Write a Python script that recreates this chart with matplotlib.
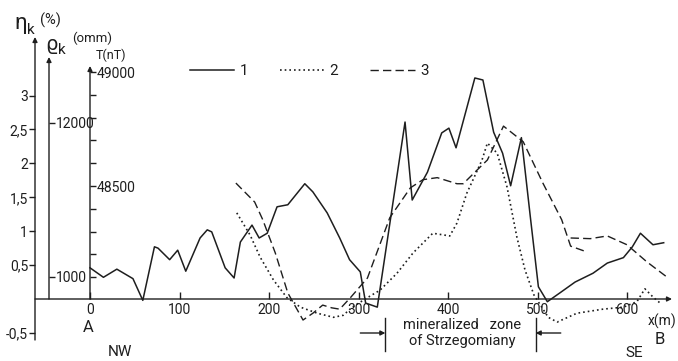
import numpy as np
import matplotlib
matplotlib.use("Agg")
from matplotlib import pyplot as plt

plt.rcParams['font.family'] = ['Roboto', 'DejaVu Sans']

W, H = 678, 361
INK = "#1e1e1e"

# curve 1 (solid), x in m, values in eta units of the left axis
x1 = [0, 15, 30, 48, 59, 72, 76, 89, 98, 107, 123, 131, 136, 151, 161, 168, 181,
      189, 198, 209, 221, 240, 249, 265, 279, 290, 302, 308, 321, 352, 360, 377,
      393, 401, 409, 430, 439, 451, 461, 470, 482, 492, 501, 511, 525, 542, 562,
      578, 596, 606, 615, 629, 641]
y1 = [0.46, 0.32, 0.44, 0.30, -0.02, 0.77, 0.75, 0.58, 0.72, 0.41, 0.90, 1.02,
      0.99, 0.46, 0.31, 0.84, 1.09, 0.90, 0.97, 1.36, 1.39, 1.70, 1.58, 1.27,
      0.90, 0.58, 0.40, -0.06, -0.12, 2.61, 1.46, 1.87, 2.45, 2.52, 2.23, 3.26,
      3.23, 2.46, 2.15, 1.67, 2.38, 1.21, 0.18, -0.04, 0.09, 0.25, 0.38, 0.53,
      0.61, 0.77, 0.97, 0.80, 0.83]

# curve 2 (dotted)
x2 = [164, 179, 190, 205, 220, 235, 254, 272, 283, 293, 310, 324, 343, 361, 383,
      402, 410, 421, 428, 438, 444, 455, 466, 477, 486, 496, 512, 522, 544, 573,
      596, 611, 620, 629, 637]
y2 = [1.27, 0.94, 0.62, 0.28, 0.02, -0.12, -0.21, -0.27, -0.24, -0.12, 0.02,
      0.13, 0.38, 0.68, 0.97, 0.93, 1.12, 1.56, 1.76, 2.05, 2.30, 2.15, 1.65,
      0.91, 0.43, 0.06, -0.27, -0.34, -0.21, -0.15, -0.12, -0.04, 0.15, 0.03,
      -0.06]

# curve 3 (dashed) and its second branch past 540 m
x3 = [163, 184, 193, 207, 221, 238, 249, 260, 270, 279, 291, 310, 335, 358, 372,
      388, 410, 417, 430, 444, 462, 484, 506, 527, 537, 556]
y3 = [1.71, 1.43, 1.17, 0.68, 0.09, -0.31, -0.21, -0.09, -0.13, -0.15, 0.02,
      0.31, 1.20, 1.64, 1.76, 1.79, 1.70, 1.70, 1.87, 2.05, 2.55, 2.32, 1.71,
      1.17, 0.78, 0.69]
x3b = [537, 559, 578, 600, 622, 646]
y3b = [0.90, 0.89, 0.93, 0.80, 0.55, 0.31]

eta_ticks = [-0.5, 0.5, 1, 1.5, 2, 2.5, 3]
eta_labels = ["-0,5", "0,5", "1", "1,5", "2", "2,5", "3"]
x_ticks = [0, 100, 200, 300, 400, 500, 600]
t_ticks = list(range(48100, 49001, 100))
t_labelled = [48500, 49000]
rho_ticks = [1000, 12000]
ZONE = (330, 498)

# pixel layout of the scan
X0, XS = 90, 0.895      # px of x=0, px per metre
Y0, YS = 299, 67.8      # px of eta=0, px per eta unit


def fx(px):
    return px / W


def fy(py):
    return 1 - py / H


def t_of_eta(e):
    return 48500 + (e - (Y0 - 186) / YS) / (114 / YS) * 500


def rho_of_eta(e):
    return 1000 + (e - (Y0 - 277) / YS) * 11000 / (154 / YS)


fig = plt.figure(figsize=(W / 100, H / 100), dpi=100)
ax = fig.add_axes([fx(30), 1 - 360 / H, 646 / W, 345 / H])
ax.set_xlim((30 - X0) / XS, (676 - X0) / XS)
ax.set_ylim((Y0 - 360) / YS, (Y0 - 15) / YS)
for s in ax.spines.values():
    s.set_visible(False)

l1, = ax.plot(x1, y1, color=INK, lw=1.1, label="1")
l2, = ax.plot(x2, y2, color=INK, lw=1.2, ls=(0, (1, 1.8)), label="2")
l3, = ax.plot(x3, y3, color=INK, lw=1.0, ls=(0, (6, 3)), label="3")
ax.plot(x3b, y3b, color=INK, lw=1.0, ls=(0, (6, 3)))

eta_x = (35 - X0) / XS
rho_x = (49 - X0) / XS
arrow = dict(arrowstyle='-|>', lw=1.0, color=INK, mutation_scale=7, shrinkA=0, shrinkB=0)
ax.annotate('', xy=((672 - X0) / XS, 0), xytext=(eta_x, 0), arrowprops=arrow, annotation_clip=False)
ax.annotate('', xy=(eta_x, (Y0 - 37) / YS), xytext=(eta_x, (Y0 - 340) / YS), arrowprops=arrow, annotation_clip=False)
ax.annotate('', xy=(rho_x, (Y0 - 57) / YS), xytext=(rho_x, 0), arrowprops=arrow, annotation_clip=False)
ax.annotate('', xy=(0, (Y0 - 66) / YS), xytext=(0, 0), arrowprops=arrow, annotation_clip=False)

# eta axis ticks
ax.spines['left'].set_position(('data', eta_x))
ax.set_yticks(eta_ticks)
ax.set_yticklabels(eta_labels)
ax.tick_params(axis='y', direction='out', length=4, width=1, color=INK,
               labelsize=10, pad=1, labelcolor=INK)
# x axis ticks
ax.spines['bottom'].set_position(('data', 0))
ax.set_xticks(x_ticks)
ax.tick_params(axis='x', direction='in', length=5, width=1, color=INK,
               labelsize=10, pad=3, labelcolor=INK)

# T axis
axT = ax.twinx()
axT.set_ylim(t_of_eta(ax.get_ylim()[0]), t_of_eta(ax.get_ylim()[1]))
for s in axT.spines.values():
    s.set_visible(False)
axT.spines['right'].set_position(('data', 0))
axT.set_yticks(t_ticks)
axT.set_yticklabels([str(t) if t in t_labelled else "" for t in t_ticks])
axT.tick_params(axis='y', direction='out', length=4, width=1, color=INK,
                labelsize=10, pad=1, labelcolor=INK)
axT.patch.set_visible(False)

# rho axis
axR = ax.twinx()
axR.set_ylim(rho_of_eta(ax.get_ylim()[0]), rho_of_eta(ax.get_ylim()[1]))
for s in axR.spines.values():
    s.set_visible(False)
axR.spines['right'].set_position(('data', rho_x))
axR.set_yticks(rho_ticks)
axR.set_yticklabels([str(r) for r in rho_ticks])
axR.tick_params(axis='y', direction='out', length=4, width=1, color=INK,
                labelsize=10, pad=1, labelcolor=INK)
axR.patch.set_visible(False)

# mineralized zone marker
zy0, zy1, zya = (Y0 - 318) / YS, (Y0 - 351) / YS, (Y0 - 333) / YS
for zx in ZONE:
    ax.plot([zx, zx], [zy0, zy1], color=INK, lw=1.0, clip_on=False)
zarrow = dict(arrowstyle='-|>', lw=1.0, color=INK, mutation_scale=7, shrinkA=0, shrinkB=0)
ax.annotate('', xy=(ZONE[0], zya), xytext=(ZONE[0] - 28, zya), arrowprops=zarrow, annotation_clip=False)
ax.annotate('', xy=(ZONE[1], zya), xytext=(ZONE[1] + 28, zya), arrowprops=zarrow, annotation_clip=False)
ax.text((ZONE[0] + ZONE[1]) / 2 + 2, zya, "mineralized   zone\nof Strzegomiany",
        ha='center', va='center', fontsize=10.5, color=INK, linespacing=1.15)

# axis titles and letters
fig.text(fx(14), fy(24), "η", fontsize=16, color=INK, va='center')
fig.text(fx(27), fy(30), "k", fontsize=11, color=INK, va='center')
fig.text(fx(40), fy(20), "(%)", fontsize=10.5, color=INK, va='center')
fig.text(fx(45), fy(44), "ϱ", fontsize=14, color=INK, va='center', family=['DejaVu Sans'])
fig.text(fx(58), fy(50), "k", fontsize=11, color=INK, va='center')
fig.text(fx(72), fy(38), "(omm)", fontsize=9.5, color=INK, va='center')
fig.text(fx(96), fy(55), "T(nT)", fontsize=9, color=INK, va='center')
fig.text(fx(88), fy(327), "A", fontsize=12, color=INK, ha='center', va='center')
fig.text(fx(120), fy(352), "NW", fontsize=11, color=INK, ha='center', va='center')
fig.text(fx(634), fy(353), "SE", fontsize=11, color=INK, ha='center', va='center')
fig.text(fx(660), fy(339), "B", fontsize=12, color=INK, ha='center', va='center')
fig.text(fx(676), fy(321), "x(m)", fontsize=10, color=INK, ha='right', va='center')

leg = ax.legend(handles=[l1, l2, l3], ncol=3, frameon=False, fontsize=11,
                handlelength=2.9, handletextpad=0.35, columnspacing=2.1,
                loc='center left', bbox_to_anchor=(fx(182), fy(71)),
                bbox_transform=fig.transFigure, borderpad=0, labelcolor=INK)

fig.savefig("out.png", dpi=100, facecolor='white')
